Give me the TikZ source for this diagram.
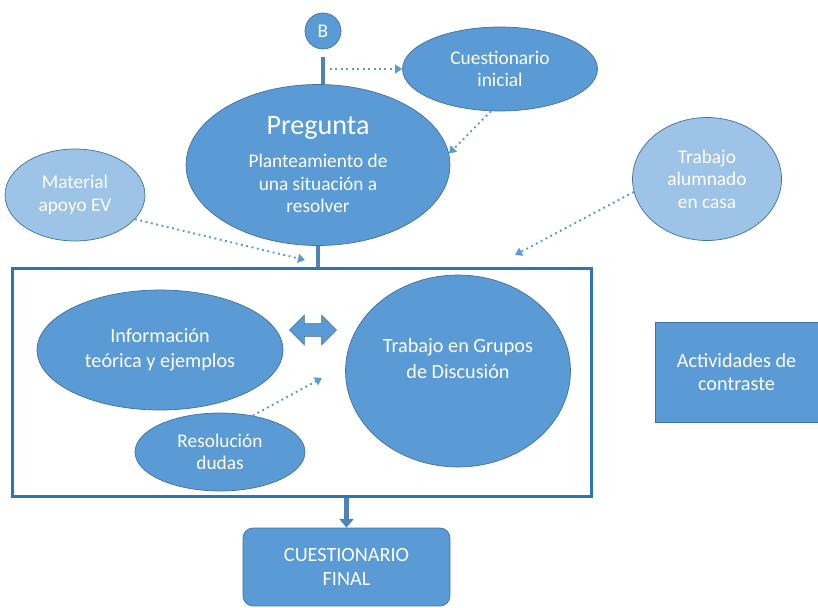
\documentclass[tikz,border=0pt]{standalone}
\usepackage{fontspec}
\setmainfont{Carlito}
\usetikzlibrary{positioning,shapes.geometric,shapes.arrows,arrows.meta,calc}
\definecolor{azul}{HTML}{5B9BD5}
\definecolor{azulclaro}{HTML}{9DC3E6}
\definecolor{borde}{HTML}{41719C}
\definecolor{marco}{HTML}{2E75B6}

\begin{document}
\begin{tikzpicture}[
x=0.02cm,
y=-0.02cm,
bola/.style={
  ellipse,
  draw=borde,
  line width=0.4pt,
  fill=azul,
  text=white,
  inner sep=0pt,
  align=center,
  font=\fontsize{11}{12.8}\selectfont
  },
bolaclara/.style={
  bola,
  fill=azulclaro
  },
caja/.style={
  rectangle,
  draw=borde,
  line width=0.4pt,
  fill=azul,
  text=white,
  align=center,
  font=\fontsize{11.5}{13.5}\selectfont
  },
grande/.style={
  font=\fontsize{11.5}{14.5}\selectfont
  },
punteada/.style={
  draw=azul,
  line width=1.1pt,
  dotted,
  -{Triangle[width=5pt,length=4pt]}
  },
tallo/.style={
  draw=azul!85!black,
  line width=2.6pt
  },
>=latex
]
\useasboundingbox (0,0) rectangle (818,608);

\node[bola, circle, minimum size=0.72cm] at (323,31) (B) {B};
\node[bola, minimum width=3.9cm, minimum height=1.68cm] at (500,69)
  (cues) {Cuestionario\\inicial};
\node[bola, minimum width=5.28cm, minimum height=3.22cm] at (318,165)
  (preg) {{\fontsize{16}{19}\selectfont Pregunta}\\[6pt]Planteamiento de\\una situación a\\resolver};
\node[bolaclara, minimum width=2.8cm, minimum height=1.84cm] at (75,195)
  (mat) {Material\\apoyo EV};
\node[bolaclara, minimum width=2.98cm, minimum height=2.46cm] at (707,179)
  (casa) {Trabajo\\alumnado\\en casa};

\node[draw=marco, line width=1.7pt, minimum width=11.6cm, minimum height=4.58cm, inner sep=0pt] at (302,382.5)
  (zona) {};
\node[bola, grande, minimum width=4.92cm, minimum height=2.4cm] at (160,350)
  (info) {Información\\teórica y ejemplos};
\node[bola, grande, minimum width=4.5cm, minimum height=3.84cm] at (458,371)
  (grupos) {Trabajo en Grupos\\de Discusión\\};
\node[bola, minimum width=3.4cm, minimum height=1.56cm] at (220,452)
  (res) {Resolución\\dudas};
\node[double arrow, fill=azul, draw=borde, line width=0.4pt, inner xsep=0pt, inner ysep=0.12cm,
  minimum height=0.94cm, double arrow head extend=0.17cm] at (313,330)
  (flecha) {};

\node[caja, minimum width=3.26cm, minimum height=2.0cm] at (736.5,372)
  (act) {Actividades de\\contraste};
\node[caja, rounded corners=0.2cm, minimum width=4.14cm, minimum height=1.56cm] at (346.5,567)
  (final) {CUESTIONARIO\\FINAL};

% conectores
\coordinate (toma) at (330,69);
\coordinate (llega1) at (305,260);
\coordinate (llega2) at (515,255);
\coordinate (llega3) at (322,378);

\draw[tallo] ($(B.south)+(0,8)$) -- (preg.north -| B.south);
\draw[tallo] (preg.south) -- (zona.north -| preg.south);
\draw[tallo, -{Triangle[width=8pt,length=5pt]}] (zona.south -| final.north) -- (final.north);

\draw[punteada] (toma) -- (cues.west);
\draw[punteada] (cues.258) -- (preg.5);
\draw[punteada] (mat.-22) -- (llega1);
\draw[punteada] (casa.190) -- (llega2);
\draw[punteada] (res.48) -- (llega3);

\end{tikzpicture}
\end{document}
